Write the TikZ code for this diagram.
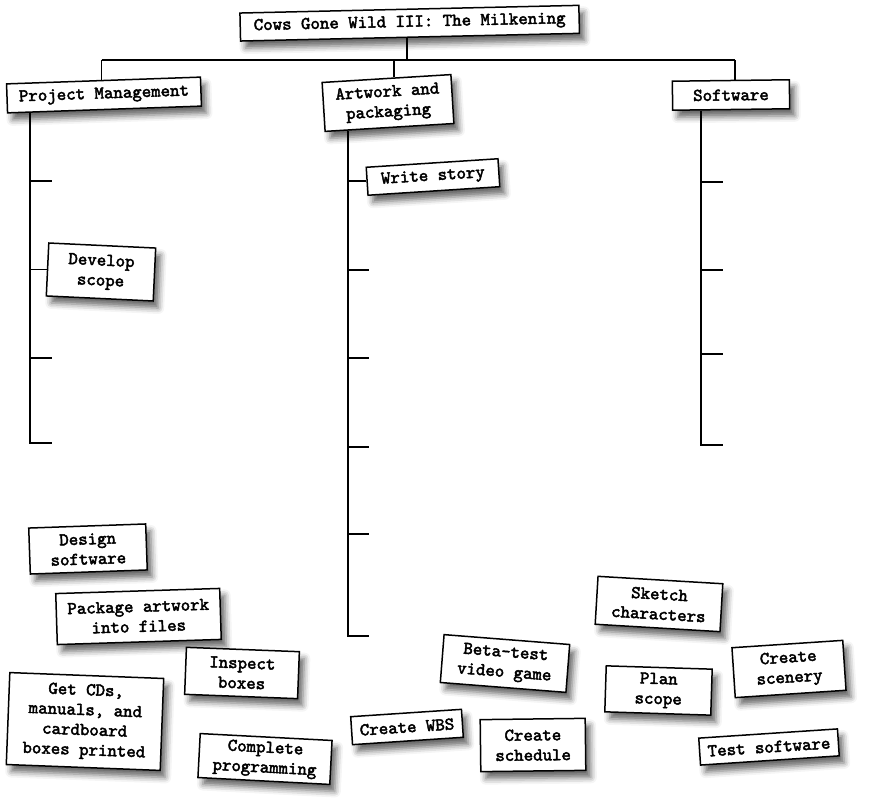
\documentclass[tikz,border=0pt]{standalone}
\usepackage{fontspec}
\newfontfamily\wbsfont{lmmono10-regular}[Extension=.otf, FakeBold=2.5]
\usetikzlibrary{shadows.blur,calc}
\begin{document}
\begin{tikzpicture}[x=1pt,y=1pt,
  wbs/.style={draw=black, line width=1.5pt, fill=white, inner sep=0pt, align=center,
    font=\wbsfont\fontsize{18}{20}\selectfont,
    blur shadow={shadow xshift=5pt, shadow yshift=-7pt, shadow blur radius=6pt, shadow opacity=60}},
  conn/.style={line width=1.8pt, draw=black}]
\useasboundingbox (0,0) rectangle (887,-802);

% hierarchy boxes
\node[wbs, minimum width=339, minimum height=28, rotate=1.3] (top) at (409.7,-23.2) {Cows Gone Wild III: The Milkening};
\node[wbs, minimum width=194, minimum height=29, rotate=2] (pm) at (104,-95) {Project Management};
\node[wbs, minimum width=129, minimum height=49, rotate=3.5] (ap) at (388,-103) {Artwork and\\packaging};
\node[wbs, minimum width=117, minimum height=29, rotate=0.7] (sw) at (731,-95) {Software};
\node[wbs, minimum width=132, minimum height=28, rotate=3.7] (ws) at (433,-177) {Write story};
\node[wbs, minimum width=107, minimum height=53, rotate=-2.7] (ds) at (101,-272) {Develop\\scope};

% loose boxes
\node[wbs, minimum width=117, minimum height=46, rotate=2] (dsw) at (88,-549) {Design\\software};
\node[wbs, minimum width=164, minimum height=51, rotate=1.8] (pkg) at (138.5,-616.5) {Package artwork\\into files};
\node[wbs, minimum width=113, minimum height=47, rotate=-2.2] (insp) at (242,-673) {Inspect\\boxes};
\node[wbs, minimum width=154, minimum height=92, rotate=-2.2] (cds) at (85,-721.5) {Get CDs,\\manuals, and\\cardboard\\boxes printed};
\node[wbs, minimum width=132, minimum height=44, rotate=-3] (prog) at (265,-759) {Complete\\programming};
\node[wbs, minimum width=125, minimum height=48, rotate=-3.4] (sk) at (659,-604) {Sketch\\characters};
\node[wbs, minimum width=126, minimum height=48, rotate=-4.5] (beta) at (505,-663.5) {Beta-test\\video game};
\node[wbs, minimum width=106, minimum height=46, rotate=-1.8] (plan) at (658.5,-690.5) {Plan\\scope};
\node[wbs, minimum width=111, minimum height=50, rotate=3.8] (scen) at (789,-669) {Create\\scenery};
\node[wbs, minimum width=111, minimum height=28, rotate=3.8] (cwbs) at (407,-727) {Create WBS};
\node[wbs, minimum width=105, minimum height=52, rotate=0.7] (sched) at (533,-745) {Create\\schedule};
\node[wbs, minimum width=139, minimum height=27, rotate=3.8] (test) at (769,-747) {Test software};

% top connectors
\coordinate (bus) at (0,-60);
\coordinate (topS) at ($(top.south west)!0.49!(top.south east)$);
\coordinate (pmN) at ($(pm.north west)!0.49!(pm.north east)$);
\coordinate (apN) at ($(ap.north west)!0.56!(ap.north east)$);
\coordinate (swN) at ($(sw.north west)!0.534!(sw.north east)$);
\draw[conn] (topS) -- (topS |- bus);
\draw[conn] (pmN |- bus) -- (swN |- bus);
\draw[conn] (pmN |- bus) -- (pmN);
\draw[conn] (apN |- bus) -- (apN);
\draw[conn] (swN |- bus) -- (swN);

% Project Management spine
\coordinate (pmS) at ($(pm.south west)!0.118!(pm.south east)$);
\coordinate (pmEnd) at (52,-443);
\coordinate (pmT1) at (52,-181);
\coordinate (pmT3) at (52,-358);
\draw[conn] (pmS) |- (pmEnd);
\draw[conn] (pmS |- pmT1) -- (pmT1);
\draw[conn] (pmS |- ds.west) -- (ds.west);
\draw[conn] (pmS |- pmT3) -- (pmT3);

% Artwork spine
\coordinate (apS) at ($(ap.south west)!0.18!(ap.south east)$);
\coordinate (apEnd) at (369,-636);
\coordinate (apT2) at (369,-270);
\coordinate (apT3) at (369,-357.7);
\coordinate (apT4) at (369,-446.7);
\coordinate (apT5) at (369,-534);
\draw[conn] (apS) |- (apEnd);
\draw[conn] (apS |- ws.west) -- (ws.west);
\draw[conn] (apS |- apT2) -- (apT2);
\draw[conn] (apS |- apT3) -- (apT3);
\draw[conn] (apS |- apT4) -- (apT4);
\draw[conn] (apS |- apT5) -- (apT5);

% Software spine
\coordinate (swS) at ($(sw.south west)!0.242!(sw.south east)$);
\coordinate (swEnd) at (722.7,-445);
\coordinate (swT1) at (722.7,-181.7);
\coordinate (swT2) at (722.7,-270);
\coordinate (swT3) at (722.7,-354);
\draw[conn] (swS) |- (swEnd);
\draw[conn] (swS |- swT1) -- (swT1);
\draw[conn] (swS |- swT2) -- (swT2);
\draw[conn] (swS |- swT3) -- (swT3);
\end{tikzpicture}
\end{document}
